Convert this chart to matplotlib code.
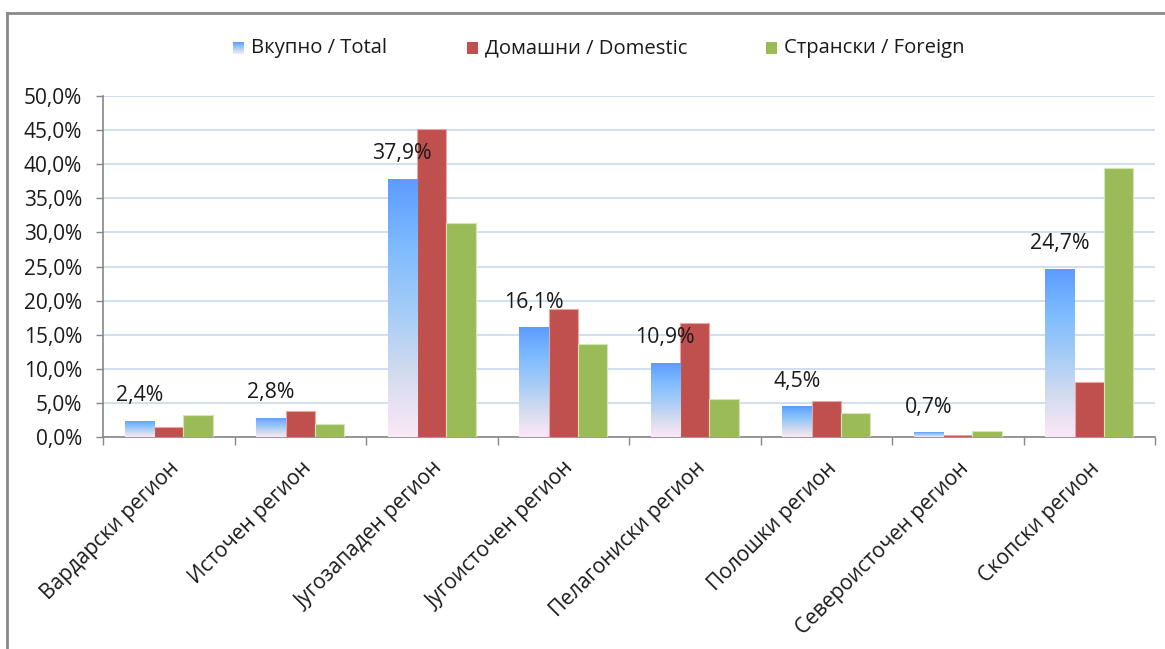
import numpy as np
import matplotlib
matplotlib.use("Agg")
import matplotlib.pyplot as plt
from matplotlib.colors import LinearSegmentedColormap
from matplotlib.lines import Line2D

plt.rcParams['font.family'] = ['Open Sans', 'DejaVu Sans']

regions = ['Вардарски регион', 'Источен регион', 'Југозападен регион',
           'Југоисточен регион', 'Пелагониски регион', 'Полошки регион',
           'Североисточен регион', 'Скопски регион']
total = [2.4, 2.8, 37.9, 16.1, 10.9, 4.5, 0.7, 24.7]
domestic = [1.4, 3.8, 45.1, 18.7, 16.7, 5.3, 0.3, 8.0]
foreign = [3.2, 1.9, 31.4, 13.6, 5.5, 3.5, 0.9, 39.5]
series_names = ['Вкупно / Total', 'Домашни / Domestic', 'Странски / Foreign']

red = '#c0504d'
green = '#9bbb59'
# blue fill fades from saturated blue at the top to pinkish white at the base
blue_cmap = LinearSegmentedColormap.from_list(
    'bluefade', [(0.0, '#fce8f7'), (0.25, '#d2dbef'), (0.5, '#a2cbf7'),
                 (0.72, '#80bcff'), (1.0, '#5b9bff')])
grad = np.linspace(0, 1, 256).reshape(-1, 1)

W, H = 1165, 649
fig = plt.figure(figsize=(W / 100, H / 100), dpi=100)
ax = fig.add_axes([103 / W, 1 - 437 / H, 1052 / W, 341 / H])

x = np.arange(len(regions))
bw = 0.224

bars_t = ax.bar(x - bw, total, bw, facecolor='none', edgecolor='none', zorder=3)
ax.bar(x, domestic, bw, color=red, edgecolor='#e8a5a3', linewidth=0.8, zorder=3)
ax.bar(x + bw, foreign, bw, color=green, edgecolor='#d3e4b5', linewidth=0.8, zorder=3)

for b in bars_t:
    x0, h = b.get_x(), b.get_height()
    im = ax.imshow(grad, cmap=blue_cmap, origin='lower', aspect='auto',
                   extent=(x0, x0 + b.get_width(), 0, h), zorder=3)
    im.set_clip_path(b)

for xi, v in zip(x, total):
    ax.annotate(f'{v:.1f}%'.replace('.', ','), (xi - bw, v), xytext=(0, 18),
                textcoords='offset points', ha='center', va='center',
                fontsize=15.3, color='#1a1a1a', zorder=5)

ax.set_xlim(-0.5, len(regions) - 0.5)
ax.set_ylim(0, 50)
ax.set_yticks(np.arange(0, 51, 5))
ax.set_yticklabels([f'{v:.1f}%'.replace('.', ',') for v in np.arange(0, 51, 5)],
                   fontsize=15, color='#1a1a1a')
ax.grid(axis='y', color='#cddcf0', linewidth=1.3, zorder=0)
ax.set_axisbelow(True)

ax.set_xticks(x)
ax.set_xticklabels(regions, rotation=45, ha='right', va='top',
                   rotation_mode='anchor', fontsize=15, color='#1a1a1a')
ax.tick_params(axis='x', which='major', length=0, pad=15)
ax.set_xticks(np.arange(-0.5, len(regions), 1), minor=True)
ax.tick_params(axis='x', which='minor', length=6, color='#868686', width=1)
ax.tick_params(axis='y', length=5, color='#868686', width=1, pad=10)

for s in ['top', 'right']:
    ax.spines[s].set_visible(False)
for s in ['left', 'bottom']:
    ax.spines[s].set_color('#868686')
    ax.spines[s].set_linewidth(1.2)

# legend drawn by hand so the blue swatch can carry the same fade
leg_y = 1 - 48 / H
swatches = [(233, None), (467, red), (766, green)]
for (px, col), name in zip(swatches, series_names):
    sax = fig.add_axes([px / W, leg_y - 6 / H, 11 / W, 12 / H])
    if col is None:
        sax.imshow(grad, cmap=blue_cmap, origin='lower', aspect='auto')
    else:
        sax.set_facecolor(col)
    sax.set_xticks([])
    sax.set_yticks([])
    for sp in sax.spines.values():
        sp.set_visible(False)
    fig.text((px + 18) / W, leg_y, name, ha='left', va='center',
             fontsize=14.6, color='#1a1a1a')

# outer chart frame
fig.add_artist(Line2D([7 / W, 1], [1 - 13 / H, 1 - 13 / H], color='#8a8a8a',
                      linewidth=2, transform=fig.transFigure))
fig.add_artist(Line2D([7 / W, 7 / W], [0, 1 - 13 / H], color='#8a8a8a',
                      linewidth=2, transform=fig.transFigure))

fig.savefig('out.png', dpi=100)
